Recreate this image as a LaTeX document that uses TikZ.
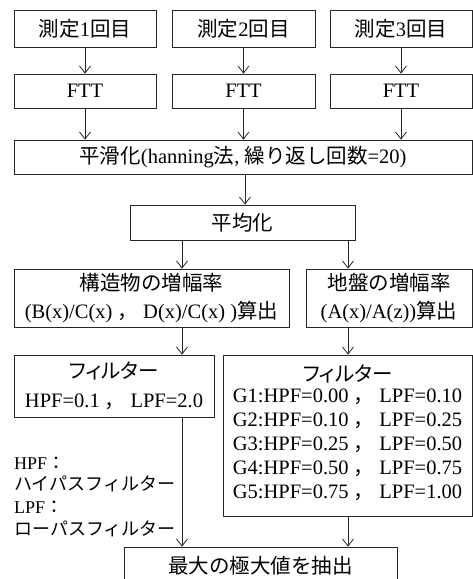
\documentclass[tikz,border=0pt]{standalone}
\usepackage{fontspec}
\setmainfont{Liberation Serif}
\newfontfamily\jp{Noto Sans CJK JP}
\newfontfamily\jpk{Noto Sans CJK JP}[RawFeature=+palt]
\usetikzlibrary{arrows.meta}
\newcommand\jt[1]{{\jp #1}}
\newcommand\jk[1]{{\jpk #1}}
\begin{document}
\begin{tikzpicture}[x=1pt,y=-1pt,
  box/.style={draw=black!85, line width=0.8pt, inner sep=0pt, align=center,
    font=\fontsize{20.5}{24}\selectfont},
  arr/.style={draw=black!85, line width=0.8pt, -{Straight Barb[length=7pt,width=11pt]}},
  note/.style={inner sep=0pt, anchor=base west, font=\fontsize{18}{20}\selectfont}]
\useasboundingbox (0,0) rectangle (473,579);
\clip (0,0) rectangle (473,579);
% row 1
\node[box, minimum width=142pt, minimum height=37pt] (m1) at (85,28.5) {\jt{測定}1\jt{回目}};
\node[box, minimum width=143pt, minimum height=37pt] (m2) at (243.5,28.5) {\jt{測定}2\jt{回目}};
\node[box, minimum width=142pt, minimum height=37pt] (m3) at (401,28.5) {\jt{測定}3\jt{回目}};
% row 2
\node[box, minimum width=142pt, minimum height=34pt] (f1) at (85,91) {FTT};
\node[box, minimum width=143pt, minimum height=34pt] (f2) at (243.5,91) {FTT};
\node[box, minimum width=142pt, minimum height=34pt] (f3) at (401,91) {FTT};
% smoothing
\node[box, minimum width=458pt, minimum height=34pt] (sm) at (243,157)
  {\jt{平滑化}(hanning\jt{法}, \jt{繰り返し回数}=20)};
% average
\node[box, minimum width=225pt, minimum height=35pt] (avg) at (242.5,222.5) {\jt{平均化}};
% amplification
\node[box, minimum width=275pt, minimum height=58pt] (st) at (151.5,298)
  {\jt{構造物の増幅率}\\[4pt](B(x)/C(x) \jt{，} D(x)/C(x) )\jt{算出}};
\node[box, minimum width=166pt, minimum height=58pt] (gr) at (389,298)
  {\jt{地盤の増幅率}\\[4pt](A(x)/A(z))\jt{算出}};
% filters
\node[box, minimum width=200pt, minimum height=62pt] (fl) at (114,386)
  {\jk{フィルター}\\[5pt]HPF=0.1 \jt{，} LPF=2.0};
\node[box, minimum width=249pt, minimum height=161pt] (fr) at (347.5,435.5)
  {\jk{フィルター}\\[2pt]
   \begin{tabular}{@{}l@{}}
   G1:HPF=0.00 \jt{，} LPF=0.10\\
   G2:HPF=0.10 \jt{，} LPF=0.25\\
   G3:HPF=0.25 \jt{，} LPF=0.50\\
   G4:HPF=0.50 \jt{，} LPF=0.75\\
   G5:HPF=0.75 \jt{，} LPF=1.00
   \end{tabular}};
% final
\node[box, minimum width=273pt, minimum height=37pt] (fin) at (260.5,565.5) {\jt{最大の極大値を抽出}};
% note
\node[note] (n1) at (14,469) {HPF\jt{：}};
\node[note] (n2) at (14,490) {\jt{ハイパスフィルター}};
\node[note] (n3) at (14,513) {LPF\jt{：}};
\node[note] (n4) at (14,535) {\jt{ローパスフィルター}};
% connectors
\coordinate (cL) at (182,0);
\coordinate (cM) at (245,0);
\coordinate (cR) at (348,0);
\draw[arr] (m1.south) -- (f1.north);
\draw[arr] (m2.south) -- (f2.north);
\draw[arr] (m3.south) -- (f3.north);
\draw[arr] (f1.south) -- (f1.south |- sm.north);
\draw[arr] (f2.south) -- (f2.south |- sm.north);
\draw[arr] (f3.south) -- (f3.south |- sm.north);
\draw[arr] (sm.south -| cM) -- (avg.north -| cM);
\draw[arr] (avg.south -| cL) -- (st.north -| cL);
\draw[arr] (avg.south -| cR) -- (gr.north -| cR);
\draw[arr] (st.south -| cL) -- (fl.north -| cL);
\draw[arr] (gr.south -| cR) -- (fr.north -| cR);
\draw[arr] (fl.south -| cL) -- (fin.north -| cL);
\draw[arr] (fr.south -| cR) -- (fin.north -| cR);
\end{tikzpicture}
\end{document}
